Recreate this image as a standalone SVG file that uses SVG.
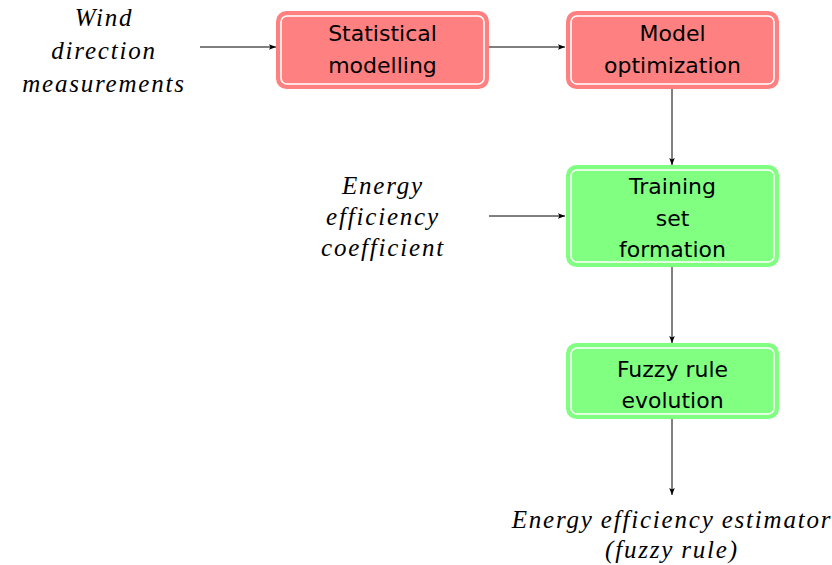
<svg xmlns="http://www.w3.org/2000/svg" width="832" height="565" viewBox="0 0 832 565">
<style>
.red{fill:#ff8080;stroke:#ff8080;stroke-width:3}
.green{fill:#80ff80;stroke:#80ff80;stroke-width:3}
.gap{fill:none;stroke:#fff;stroke-width:1.6}
.lbl{font-family:"DejaVu Sans","Liberation Sans",sans-serif;font-size:22px;fill:#000;text-anchor:middle}
.it{font-family:"Liberation Serif","DejaVu Serif",serif;font-style:italic;font-size:25px;letter-spacing:1.8px;word-spacing:-1px;fill:#000;text-anchor:middle}
.edge{stroke:#000;stroke-width:1;fill:none;marker-end:url(#ah)}
</style>
<defs>
<marker id="ah" viewBox="0 0 10 10" refX="10" refY="5" markerWidth="7" markerHeight="7" markerUnits="userSpaceOnUse" orient="auto">
<path d="M0,1 L10,5 L0,9 L2,5 z" fill="#000"/>
</marker>
</defs>
<g id="connectors">
<line class="edge" x1="200" y1="47" x2="276" y2="47"/>
<line class="edge" x1="489" y1="47" x2="565" y2="47"/>
<line class="edge" x1="672" y1="89" x2="672" y2="165"/>
<line class="edge" x1="489" y1="216" x2="565" y2="216"/>
<line class="edge" x1="672" y1="267" x2="672" y2="343"/>
<line class="edge" x1="672" y1="419" x2="672" y2="495"/>
</g>
<g id="wind">
<text class="it" x="104" y="26">Wind</text>
<text class="it" x="104" y="59">direction</text>
<text class="it" x="104" y="92">measurements</text>
</g>
<g id="statistical">
<rect class="red" x="277.5" y="12.5" width="210" height="75" rx="9"/>
<rect class="gap" x="281" y="16" width="203" height="68" rx="6"/>
<text class="lbl" x="382.5" y="41">Statistical</text>
<text class="lbl" x="382.5" y="73">modelling</text>
</g>
<g id="model">
<rect class="red" x="567.5" y="12.5" width="210" height="75" rx="9"/>
<rect class="gap" x="571" y="16" width="203" height="68" rx="6"/>
<text class="lbl" x="672.5" y="41">Model</text>
<text class="lbl" x="672.5" y="73">optimization</text>
</g>
<g id="coefficient">
<text class="it" x="383" y="194">Energy</text>
<text class="it" x="383" y="225">efficiency</text>
<text class="it" x="383" y="256">coefficient</text>
</g>
<g id="training">
<rect class="green" x="567.5" y="166.5" width="210" height="99" rx="9"/>
<rect class="gap" x="571" y="170" width="203" height="92" rx="6"/>
<text class="lbl" x="672.5" y="194">Training</text>
<text class="lbl" x="672.5" y="226">set</text>
<text class="lbl" x="672.5" y="257">formation</text>
</g>
<g id="fuzzy">
<rect class="green" x="567.5" y="344.5" width="210" height="73" rx="9"/>
<rect class="gap" x="571" y="348" width="203" height="66" rx="6"/>
<text class="lbl" x="672.5" y="377">Fuzzy rule</text>
<text class="lbl" x="672.5" y="408">evolution</text>
</g>
<g id="estimator">
<text class="it" x="672" y="528">Energy efficiency estimator</text>
<text class="it" x="672" y="558">(fuzzy rule)</text>
</g>
</svg>
